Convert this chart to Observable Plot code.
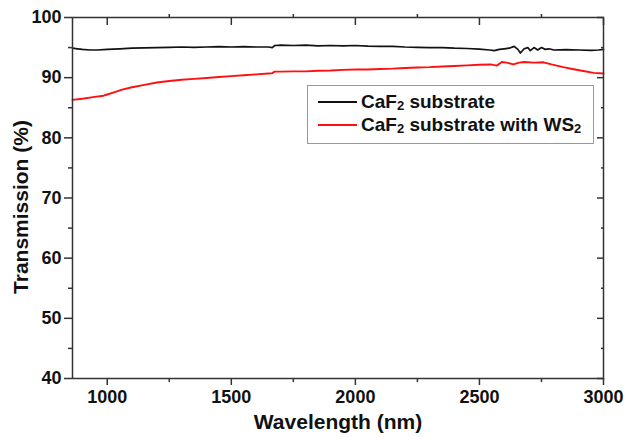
<!DOCTYPE html>
<html>
<head>
<meta charset="utf-8">
<script src="https://cdn.jsdelivr.net/npm/d3@7"></script>
<script src="https://cdn.jsdelivr.net/npm/@observablehq/plot@0.6"></script>
<style>
  html, body { margin: 0; padding: 0; background: #fff; }
  #wrap { position: relative; width: 626px; height: 437px; font-family: "Liberation Sans", Arial, sans-serif; }
  #legend { position: absolute; left: 307px; top: 85px; width: 287px; height: 59px; border: 1px solid #999; background: #fff; box-sizing: border-box; }
  .entry { position: absolute; left: 10px; height: 22px; display: flex; align-items: center; font-weight: bold; font-size: 19px; color: #111; white-space: nowrap; }
  .entry .sw { width: 39px; height: 2px; margin-right: 4px; }
  .entry sub { font-size: 13px; vertical-align: -2px; line-height: 0; }
</style>
</head>
<body>
<div id="wrap"></div>
<script>
// Data
const wavelengthSubstrate = [860, 880, 900, 930, 960, 1000, 1050, 1100, 1150, 1200, 1250, 1300, 1350, 1400, 1450, 1500, 1550, 1600, 1650, 1665, 1675, 1700, 1750, 1800, 1850, 1900, 1950, 2000, 2050, 2100, 2150, 2200, 2250, 2300, 2350, 2400, 2450, 2500, 2540, 2560, 2580, 2600, 2620, 2640, 2655, 2665, 2680, 2695, 2705, 2720, 2735, 2750, 2765, 2780, 2800, 2850, 2900, 2950, 2980, 3000];
const transSubstrate = [94.9, 94.8, 94.7, 94.6, 94.6, 94.7, 94.8, 94.9, 94.95, 95.0, 95.05, 95.1, 95.05, 95.1, 95.15, 95.1, 95.15, 95.1, 95.1, 95.0, 95.35, 95.4, 95.35, 95.4, 95.3, 95.35, 95.3, 95.35, 95.25, 95.2, 95.2, 95.1, 95.05, 95.0, 95.0, 94.9, 94.85, 94.75, 94.6, 94.5, 94.7, 94.8, 94.9, 95.2, 94.7, 94.1, 94.8, 95.0, 94.5, 95.0, 94.6, 95.0, 94.7, 94.8, 94.6, 94.65, 94.6, 94.55, 94.6, 94.7];

const wavelengthWS2 = [860, 900, 950, 985, 1000, 1030, 1060, 1100, 1150, 1200, 1250, 1300, 1350, 1400, 1450, 1500, 1550, 1600, 1650, 1665, 1675, 1700, 1750, 1800, 1850, 1900, 1950, 2000, 2050, 2100, 2150, 2200, 2250, 2300, 2350, 2400, 2450, 2500, 2545, 2570, 2590, 2610, 2637, 2660, 2680, 2720, 2758, 2790, 2838, 2880, 2919, 2960, 3000];
const transWS2 = [86.3, 86.5, 86.8, 87.0, 87.2, 87.6, 88.0, 88.4, 88.8, 89.2, 89.45, 89.65, 89.8, 89.95, 90.1, 90.25, 90.4, 90.55, 90.7, 90.75, 91.0, 91.0, 91.05, 91.05, 91.15, 91.2, 91.3, 91.35, 91.35, 91.45, 91.5, 91.6, 91.7, 91.75, 91.85, 91.95, 92.05, 92.15, 92.2, 92.0, 92.6, 92.5, 92.2, 92.5, 92.6, 92.5, 92.55, 92.2, 91.75, 91.4, 91.1, 90.8, 90.7];

const seriesNames = ["CaF2 substrate", "CaF2 substrate with WS2"];
const seriesColors = ["#111111", "#ff1010"];

const xMajorTicks = [1000, 1500, 2000, 2500, 3000];
const xMinorTicks = [1250, 1750, 2250, 2750];
const yMajorTicks = [40, 50, 60, 70, 80, 90, 100];
const yMinorTicks = [45, 55, 65, 75, 85, 95];
const xDomain = [860, 3000];
const yDomain = [40, 100];
const xTitle = "Wavelength (nm)";
const yTitle = "Transmission (%)";

const substrate = wavelengthSubstrate.map((w, i) => ({w, t: transSubstrate[i]}));
const ws2 = wavelengthWS2.map((w, i) => ({w, t: transWS2[i]}));

const axisStroke = "#333";
const blank = () => "";
const tickOpts = {label: null, stroke: axisStroke, strokeWidth: 1.5};
const labelOpts = {fill: "#111", fontSize: 18, fontWeight: "bold"};

const chart = Plot.plot({
  width: 626,
  height: 437,
  marginLeft: 72,
  marginRight: 23,
  marginTop: 17,
  marginBottom: 59,
  style: {fontFamily: "'Liberation Sans', Arial, sans-serif", fontWeight: "bold", fontSize: "18px", background: "#fff", overflow: "visible"},
  x: {domain: xDomain},
  y: {domain: yDomain},
  marks: [
    Plot.line(substrate, {x: "w", y: "t", stroke: seriesColors[0], strokeWidth: 1.7}),
    Plot.line(ws2, {x: "w", y: "t", stroke: seriesColors[1], strokeWidth: 1.9}),
    // bottom axis
    Plot.axisX({...tickOpts, ...labelOpts, anchor: "bottom", ticks: xMajorTicks, tickSize: 7, tickPadding: 5, tickFormat: d => String(d)}),
    Plot.axisX({...tickOpts, anchor: "bottom", ticks: xMinorTicks, tickSize: 4, tickFormat: blank}),
    // top axis
    Plot.axisX({...tickOpts, anchor: "top", ticks: xMajorTicks, tickSize: -7, tickFormat: blank}),
    Plot.axisX({...tickOpts, anchor: "top", ticks: xMinorTicks, tickSize: 4, tickFormat: blank}),
    // left axis
    Plot.axisY({...tickOpts, ...labelOpts, anchor: "left", ticks: yMajorTicks, tickSize: 8, tickPadding: 3, tickFormat: d => String(d)}),
    Plot.axisY({...tickOpts, anchor: "left", ticks: yMinorTicks, tickSize: 4, tickFormat: blank}),
    // right axis
    Plot.axisY({...tickOpts, anchor: "right", ticks: yMajorTicks, tickSize: -7, tickFormat: blank}),
    Plot.axisY({...tickOpts, anchor: "right", ticks: yMinorTicks, tickSize: -3, tickFormat: blank}),
    Plot.frame({stroke: axisStroke, strokeWidth: 1.5}),
    Plot.text([xTitle], {frameAnchor: "bottom", dy: 50, fontSize: 21, fontWeight: "bold", fill: "#111", textAnchor: "middle"}),
    Plot.text([yTitle], {frameAnchor: "left", rotate: -90, dx: -51, dy: 9, fontSize: 21, fontWeight: "bold", fill: "#111", textAnchor: "middle"})
  ]
});

const wrap = document.getElementById("wrap");
wrap.appendChild(chart);

// Legend
const legend = document.createElement("div");
legend.id = "legend";
const fmt = name => name.replace(/2/g, "<sub>2</sub>");
seriesNames.forEach((name, i) => {
  const e = document.createElement("div");
  e.className = "entry";
  e.style.top = (5 + i * 23) + "px";
  e.innerHTML = `<span class="sw" style="background:${seriesColors[i]}"></span><span>${fmt(name)}</span>`;
  legend.appendChild(e);
});
wrap.appendChild(legend);
</script>
</body>
</html>
